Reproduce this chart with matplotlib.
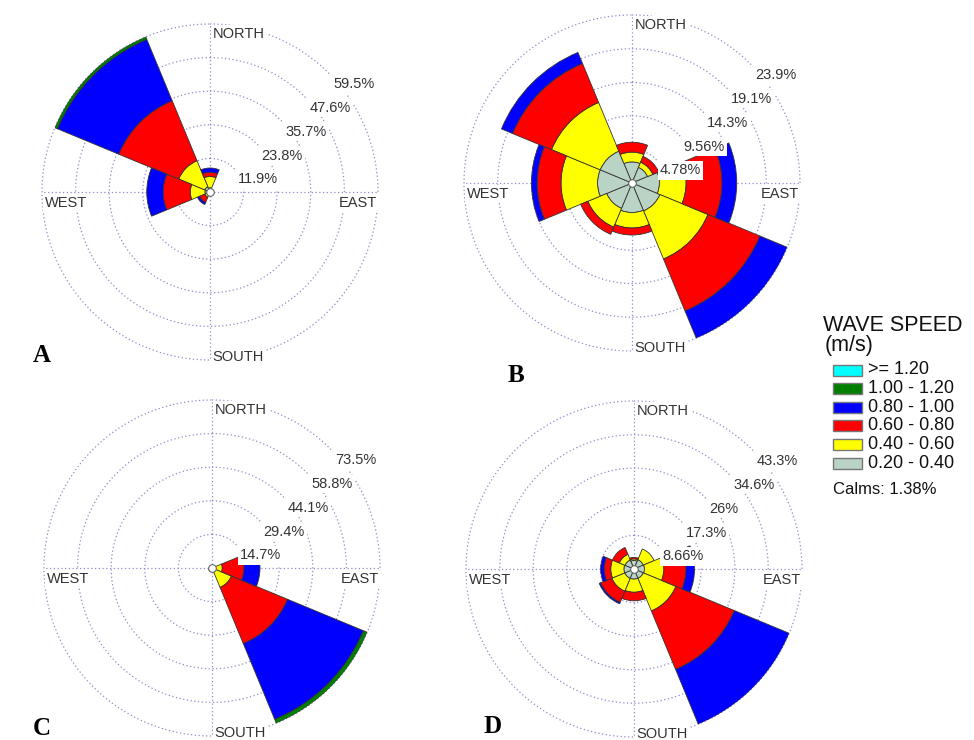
import numpy as np
import matplotlib

matplotlib.use("Agg")
import matplotlib.pyplot as plt
from matplotlib.patches import Rectangle

plt.rcParams["font.family"] = ["Liberation Sans", "DejaVu Sans"]

# 8 compass sectors, clockwise from north
DIRECTIONS = ["N", "NE", "E", "SE", "S", "SW", "W", "NW"]
DIR_DEG = [0, 45, 90, 135, 180, 225, 270, 315]

SPEED_BINS = [">= 1.20", "1.00 - 1.20", "0.80 - 1.00", "0.60 - 0.80", "0.40 - 0.60", "0.20 - 0.40"]
BIN_COLORS = ["#00ffff", "#007f00", "#0000ff", "#ff0000", "#ffff00", "#b9d3c4"]
CALMS = "Calms: 1.38%"

# frequency (%) per direction; rows go from the slowest bin (0.20-0.40) to >= 1.20
A_FREQ = [
    [1.5, 0.0, 0.0, 0.0, 0.0, 0.3, 1.8, 2.0],
    [4.0, 0.0, 0.0, 0.0, 0.0, 1.7, 5.2, 10.0],
    [1.5, 0.0, 0.0, 0.0, 0.0, 2.0, 9.6, 23.0],
    [1.5, 0.0, 0.0, 0.0, 0.0, 0.8, 5.8, 23.5],
    [0.0, 0.0, 0.0, 0.0, 0.0, 0.0, 0.0, 1.0],
    [0.0, 0.0, 0.0, 0.0, 0.0, 0.0, 0.0, 0.0],
]
A_RINGS = [11.9, 23.8, 35.7, 47.6, 59.5]
A_LABELS = ["11.9%", "23.8%", "35.7%", "47.6%", "59.5%"]

B_FREQ = [
    [3.0, 2.4, 3.9, 4.3, 4.2, 3.9, 4.9, 4.9],
    [1.4, 0.8, 3.8, 7.4, 2.2, 2.9, 5.2, 7.5],
    [1.4, 0.9, 5.1, 8.0, 1.0, 1.1, 3.4, 6.0],
    [0.0, 0.0, 2.1, 4.2, 0.0, 0.0, 0.8, 1.7],
    [0.0, 0.0, 0.0, 0.0, 0.0, 0.0, 0.0, 0.0],
    [0.0, 0.0, 0.0, 0.0, 0.0, 0.0, 0.0, 0.0],
]
B_RINGS = [4.78, 9.56, 14.3, 19.1, 23.9]
B_LABELS = ["4.78%", "9.56%", "14.3%", "19.1%", "23.9%"]

C_FREQ = [
    [0.0, 0.0, 0.5, 0.5, 0.0, 0.3, 0.0, 0.0],
    [0.0, 0.0, 4.0, 8.7, 0.0, 0.5, 0.0, 0.0],
    [0.0, 0.0, 9.5, 26.6, 0.0, 0.8, 0.0, 0.0],
    [0.0, 0.0, 7.0, 35.9, 0.0, 0.0, 0.0, 0.0],
    [0.0, 0.0, 0.0, 1.8, 0.0, 0.0, 0.0, 0.0],
    [0.0, 0.0, 0.0, 0.0, 0.0, 0.0, 0.0, 0.0],
]
C_RINGS = [14.7, 29.4, 44.1, 58.8, 73.5]
C_LABELS = ["14.7%", "29.4%", "44.1%", "58.8%", "73.5%"]

D_FREQ = [
    [2.2, 2.6, 2.7, 2.6, 2.6, 2.6, 2.6, 2.5],
    [0.4, 3.0, 5.0, 9.1, 3.4, 3.6, 3.4, 1.6],
    [0.4, 0.0, 5.7, 16.3, 2.2, 3.1, 1.7, 1.9],
    [0.0, 0.0, 2.2, 15.3, 0.0, 0.4, 0.9, 0.0],
    [0.0, 0.0, 0.0, 0.0, 0.0, 0.0, 0.0, 0.0],
    [0.0, 0.0, 0.0, 0.0, 0.0, 0.0, 0.0, 0.0],
]
D_RINGS = [8.66, 17.3, 26.0, 34.6, 43.3]
D_LABELS = ["8.66%", "17.3%", "26%", "34.6%", "43.3%"]

W, H = 974, 740
R_PX = 168
GRID = "#8c8cd0"
TXT = "#333333"


def draw_rose(fig, cx, cy, freq, rings, labels, letter, letter_xy):
    rect = [(cx - R_PX) / W, (H - cy - R_PX) / H, 2 * R_PX / W, 2 * R_PX / H]
    ax = fig.add_axes(rect, projection="polar")
    ax.set_theta_zero_location("N")
    ax.set_theta_direction(-1)
    rmax = rings[-1]
    ax.set_ylim(0, rmax)
    ax.set_xticks([])
    ax.set_yticks([])
    ax.grid(False)
    ax.spines["polar"].set_visible(False)

    # dotted rings and cross
    t = np.linspace(0, 2 * np.pi, 400)
    for r in rings:
        ax.plot(t, np.full_like(t, r), ls=(0, (1, 2)), color=GRID, lw=0.9, zorder=1, clip_on=False)
    for a in [0, 90, 180, 270]:
        ax.plot([np.deg2rad(a)] * 2, [0, rmax], ls=(0, (1, 2)), color=GRID, lw=0.9, zorder=1, clip_on=False)

    # bin colours listed fastest first, data rows slowest first
    theta = np.deg2rad(DIR_DEG)
    bottom = np.zeros(len(DIR_DEG))
    for row, color in zip(freq, BIN_COLORS[::-1]):
        h = np.asarray(row, dtype=float)
        m = h > 0
        if m.any():
            ax.bar(theta[m], h[m], width=np.deg2rad(45), bottom=bottom[m], color=color,
                   edgecolor="#333333", linewidth=0.6, zorder=3)
        bottom += h

    ax.plot([0], [0], "o", ms=5.5, mfc="white", mec="#666666", mew=0.8, zorder=8, clip_on=False)

    box = dict(boxstyle="square,pad=0.15", fc="white", ec="none")
    for r, lab in zip(rings, labels):
        ax.annotate(lab, xy=(np.pi / 4, r), xytext=(3, -3), textcoords="offset points",
                    ha="left", va="top", fontsize=10.5, color=TXT, bbox=box, zorder=10,
                    annotation_clip=False)

    compass = [
        ("NORTH", 0, (2, -2), "left", "top"),
        ("EAST", 90, (-1, -3), "right", "top"),
        ("SOUTH", 180, (2, 2), "left", "center"),
        ("WEST", 270, (2, -3), "left", "top"),
    ]
    for name, deg, off, ha, va in compass:
        ax.annotate(name, xy=(np.deg2rad(deg), rmax), xytext=off, textcoords="offset points",
                    ha=ha, va=va, fontsize=10.5, color=TXT, bbox=box, zorder=10,
                    annotation_clip=False)

    fig.text(letter_xy[0] / W, 1 - letter_xy[1] / H, letter, ha="left", va="baseline",
             fontsize=18, fontweight="bold", family=["Liberation Serif", "DejaVu Serif"], color="black")


def draw_legend(fig):
    fig.text(823 / W, 1 - 331 / H, "WAVE SPEED", ha="left", va="baseline", fontsize=15.5, color="#111111")
    fig.text(825 / W, 1 - 351 / H, "(m/s)", ha="left", va="baseline", fontsize=15.5, color="#111111")
    for i, (lab, color) in enumerate(zip(SPEED_BINS, BIN_COLORS)):
        yc = 370 + i * 18.6
        fig.add_artist(Rectangle((833 / W, 1 - (yc + 5.5) / H), 29 / W, 11 / H, transform=fig.transFigure,
                                 facecolor=color, edgecolor="#777777", linewidth=1))
        fig.text(868 / W, 1 - yc / H, lab, ha="left", va="center", fontsize=13, color="#111111")
    fig.text(833 / W, 1 - 490 / H, CALMS, ha="left", va="center", fontsize=12, color="#111111")


fig = plt.figure(figsize=(W / 100, H / 100), dpi=100)
fig.patch.set_facecolor("white")
draw_rose(fig, 210, 192, A_FREQ, A_RINGS, A_LABELS, "A", (33, 362))
draw_rose(fig, 632, 183, B_FREQ, B_RINGS, B_LABELS, "B", (508, 382))
draw_rose(fig, 212, 568, C_FREQ, C_RINGS, C_LABELS, "C", (33, 735))
draw_rose(fig, 634, 569, D_FREQ, D_RINGS, D_LABELS, "D", (483, 733))
draw_legend(fig)
fig.savefig("out.png", dpi=100)
